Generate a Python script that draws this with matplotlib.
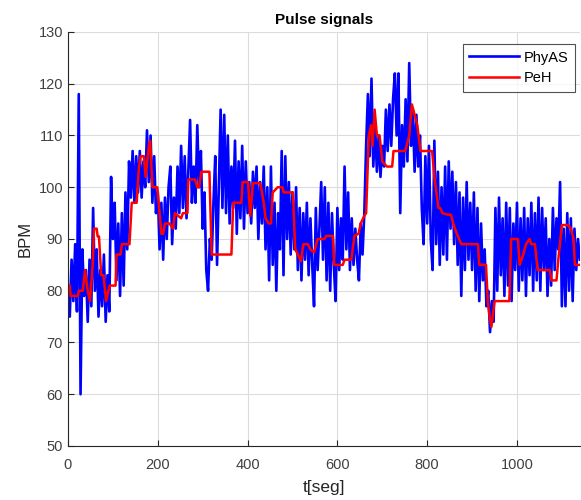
import numpy as np
import matplotlib
matplotlib.use("Agg")
import matplotlib.pyplot as plt

plt.rcParams['font.family'] = ['Liberation Sans', 'DejaVu Sans']

# PhyAS signal sampled every 4 s (t = 0 .. 1140)
phyas_t = list(range(0, 1141, 4))
phyas_bpm = [
    80, 75, 86, 78, 89, 76, 118, 60, 88, 79,
    84, 74, 86, 77, 96, 80, 88, 75, 84, 77,
    87, 74, 83, 76, 102, 90, 97, 82, 93, 79,
    95, 81, 99, 88, 105, 98, 107, 97, 106, 99,
    107, 98, 105, 100, 111, 101, 110, 97, 106, 95,
    99, 88, 97, 86, 98, 90, 100, 104, 89, 98,
    92, 104, 95, 108, 96, 106, 94, 103, 113, 97,
    104, 97, 112, 100, 107, 92, 99, 84, 80, 90,
    86, 97, 106, 85, 100, 115, 96, 114, 95, 110,
    93, 104, 96, 109, 91, 105, 94, 108, 92, 105,
    95, 101, 93, 103, 96, 104, 90, 101, 93, 104,
    88, 100, 82, 104, 85, 97, 80, 95, 88, 107,
    83, 106, 90, 101, 87, 99, 88, 100, 84, 96,
    82, 95, 86, 97, 83, 94, 85, 77, 96, 84,
    92, 101, 86, 100, 82, 97, 80, 95, 85, 78,
    96, 84, 94, 86, 104, 88, 99, 84, 94, 85,
    92, 86, 82, 93, 87, 95, 108, 118, 106, 121,
    104, 112, 103, 110, 102, 108, 104, 115, 107, 116,
    108, 117, 122, 110, 122, 95, 112, 104, 117, 105,
    124, 108, 115, 103, 114, 104, 110, 96, 89, 106,
    93, 108, 90, 84, 109, 89, 103, 85, 100, 87,
    104, 86, 105, 92, 103, 89, 101, 85, 99, 79,
    98, 84, 101, 86, 97, 84, 99, 80, 96, 78,
    93, 82, 88, 77, 80, 72, 78, 74, 96, 80,
    98, 83, 94, 79, 97, 81, 96, 78, 93, 84,
    97, 80, 94, 82, 96, 79, 94, 83, 97, 80,
    95, 82, 98, 80, 96, 84, 94, 79, 90, 81,
    96, 84, 94, 88, 101, 77, 92, 77, 95, 80,
    94, 78, 92, 84, 90, 86,
]

# PeH signal (breakpoints)
peh_t = [0, 4, 6, 22, 24, 33, 38, 44, 49, 55, 58, 64, 66, 69, 72, 74, 79, 85, 90, 93,
         106, 108, 117, 120, 137, 142, 153, 158, 162, 169, 173, 180, 183, 188, 199, 204,
         208, 212, 216, 226, 234, 238, 252, 256, 266, 268, 283, 288, 292, 297, 315, 320,
         364, 368, 386, 389, 401, 406, 412, 427, 430, 436, 440, 447, 452, 456, 467, 478,
         480, 501, 506, 512, 519, 524, 534, 540, 548, 556, 571, 575, 590, 593, 612, 616,
         631, 638, 647, 652, 660, 664, 670, 675, 678, 683, 688, 694, 700, 710, 722, 725,
         751, 760, 766, 772, 778, 785, 811, 816, 825, 829, 834, 846, 853, 858, 866, 876,
         913, 916, 931, 935, 939, 943, 946, 950, 983, 987, 1002, 1006, 1014, 1020, 1028,
         1032, 1040, 1046, 1073, 1077, 1088, 1092, 1100, 1114, 1120, 1126, 1129, 1140]
peh_bpm = [81, 81, 79, 79, 80, 80, 84, 80, 78, 85, 92, 92, 90.5, 90.5, 86, 83, 83, 78, 80, 81,
           81, 87, 87, 89, 89, 97, 97, 104, 106, 106, 102, 108, 109, 100, 100, 95,
           91, 91, 93, 93, 92, 95, 94, 95, 95, 101.5, 101.5, 100, 100, 103, 103, 87,
           87, 97, 97, 101, 101, 94.5, 100.8, 100.8, 100, 97, 94, 93, 93, 99, 100, 100,
           99, 99, 88, 87, 85.7, 89, 89, 88, 87.4, 90, 90, 90.6, 90.6, 85, 85, 86,
           86, 90.6, 91, 93, 94.5, 95, 110, 112, 108, 115, 110, 110, 105, 104, 104, 107,
           107, 110, 116, 114, 112, 107, 107, 102, 96, 96, 95, 94.7, 94.7, 93, 91, 89,
           89, 85, 85, 78, 75, 73, 75, 78, 78, 90, 90, 85, 87, 89, 90,
           89, 89, 84, 84, 82, 82, 86, 92.7, 92.7, 92, 90, 85, 85]

fig = plt.figure(figsize=(5.81, 5.00), dpi=100)
ax = fig.add_axes([0.117, 0.108, 0.881, 0.828])

ax.plot(phyas_t, phyas_bpm, color='#0000ff', linewidth=1.9, label='PhyAS')
ax.plot(peh_t, peh_bpm, color='#ff0000', linewidth=1.8, label='PeH')

ax.set_xlim(0, 1140)
ax.set_ylim(50, 130)
ax.set_xticks([0, 200, 400, 600, 800, 1000])
ax.set_yticks(list(range(50, 131, 10)))
ax.grid(True, color='#dcdcdc', linewidth=0.8)
ax.set_axisbelow(True)
for s in ['top', 'right']:
    ax.spines[s].set_visible(False)
for s in ['left', 'bottom']:
    ax.spines[s].set_color('#262626')
    ax.spines[s].set_linewidth(0.8)
ax.tick_params(direction='in', length=4, colors='#262626', labelsize=10.5,
               labelcolor='#404040')
ax.tick_params(axis='x', pad=8.5)

ax.set_title('Pulse signals', fontsize=11, fontweight='bold', pad=6)
ax.set_xlabel('t[seg]', fontsize=12.5, color='#262626', labelpad=6)
ax.set_ylabel('BPM', fontsize=12, color='#262626', labelpad=4)

leg = ax.legend(loc='upper right', fontsize=10.5, frameon=True, fancybox=False,
                edgecolor='#262626', handlelength=3.4, handletextpad=0.3,
                borderpad=0.45, labelspacing=0.45, borderaxespad=0,
                bbox_to_anchor=(0.990, 0.971))
leg.get_frame().set_linewidth(0.8)

fig.savefig('out.png', dpi=100)
